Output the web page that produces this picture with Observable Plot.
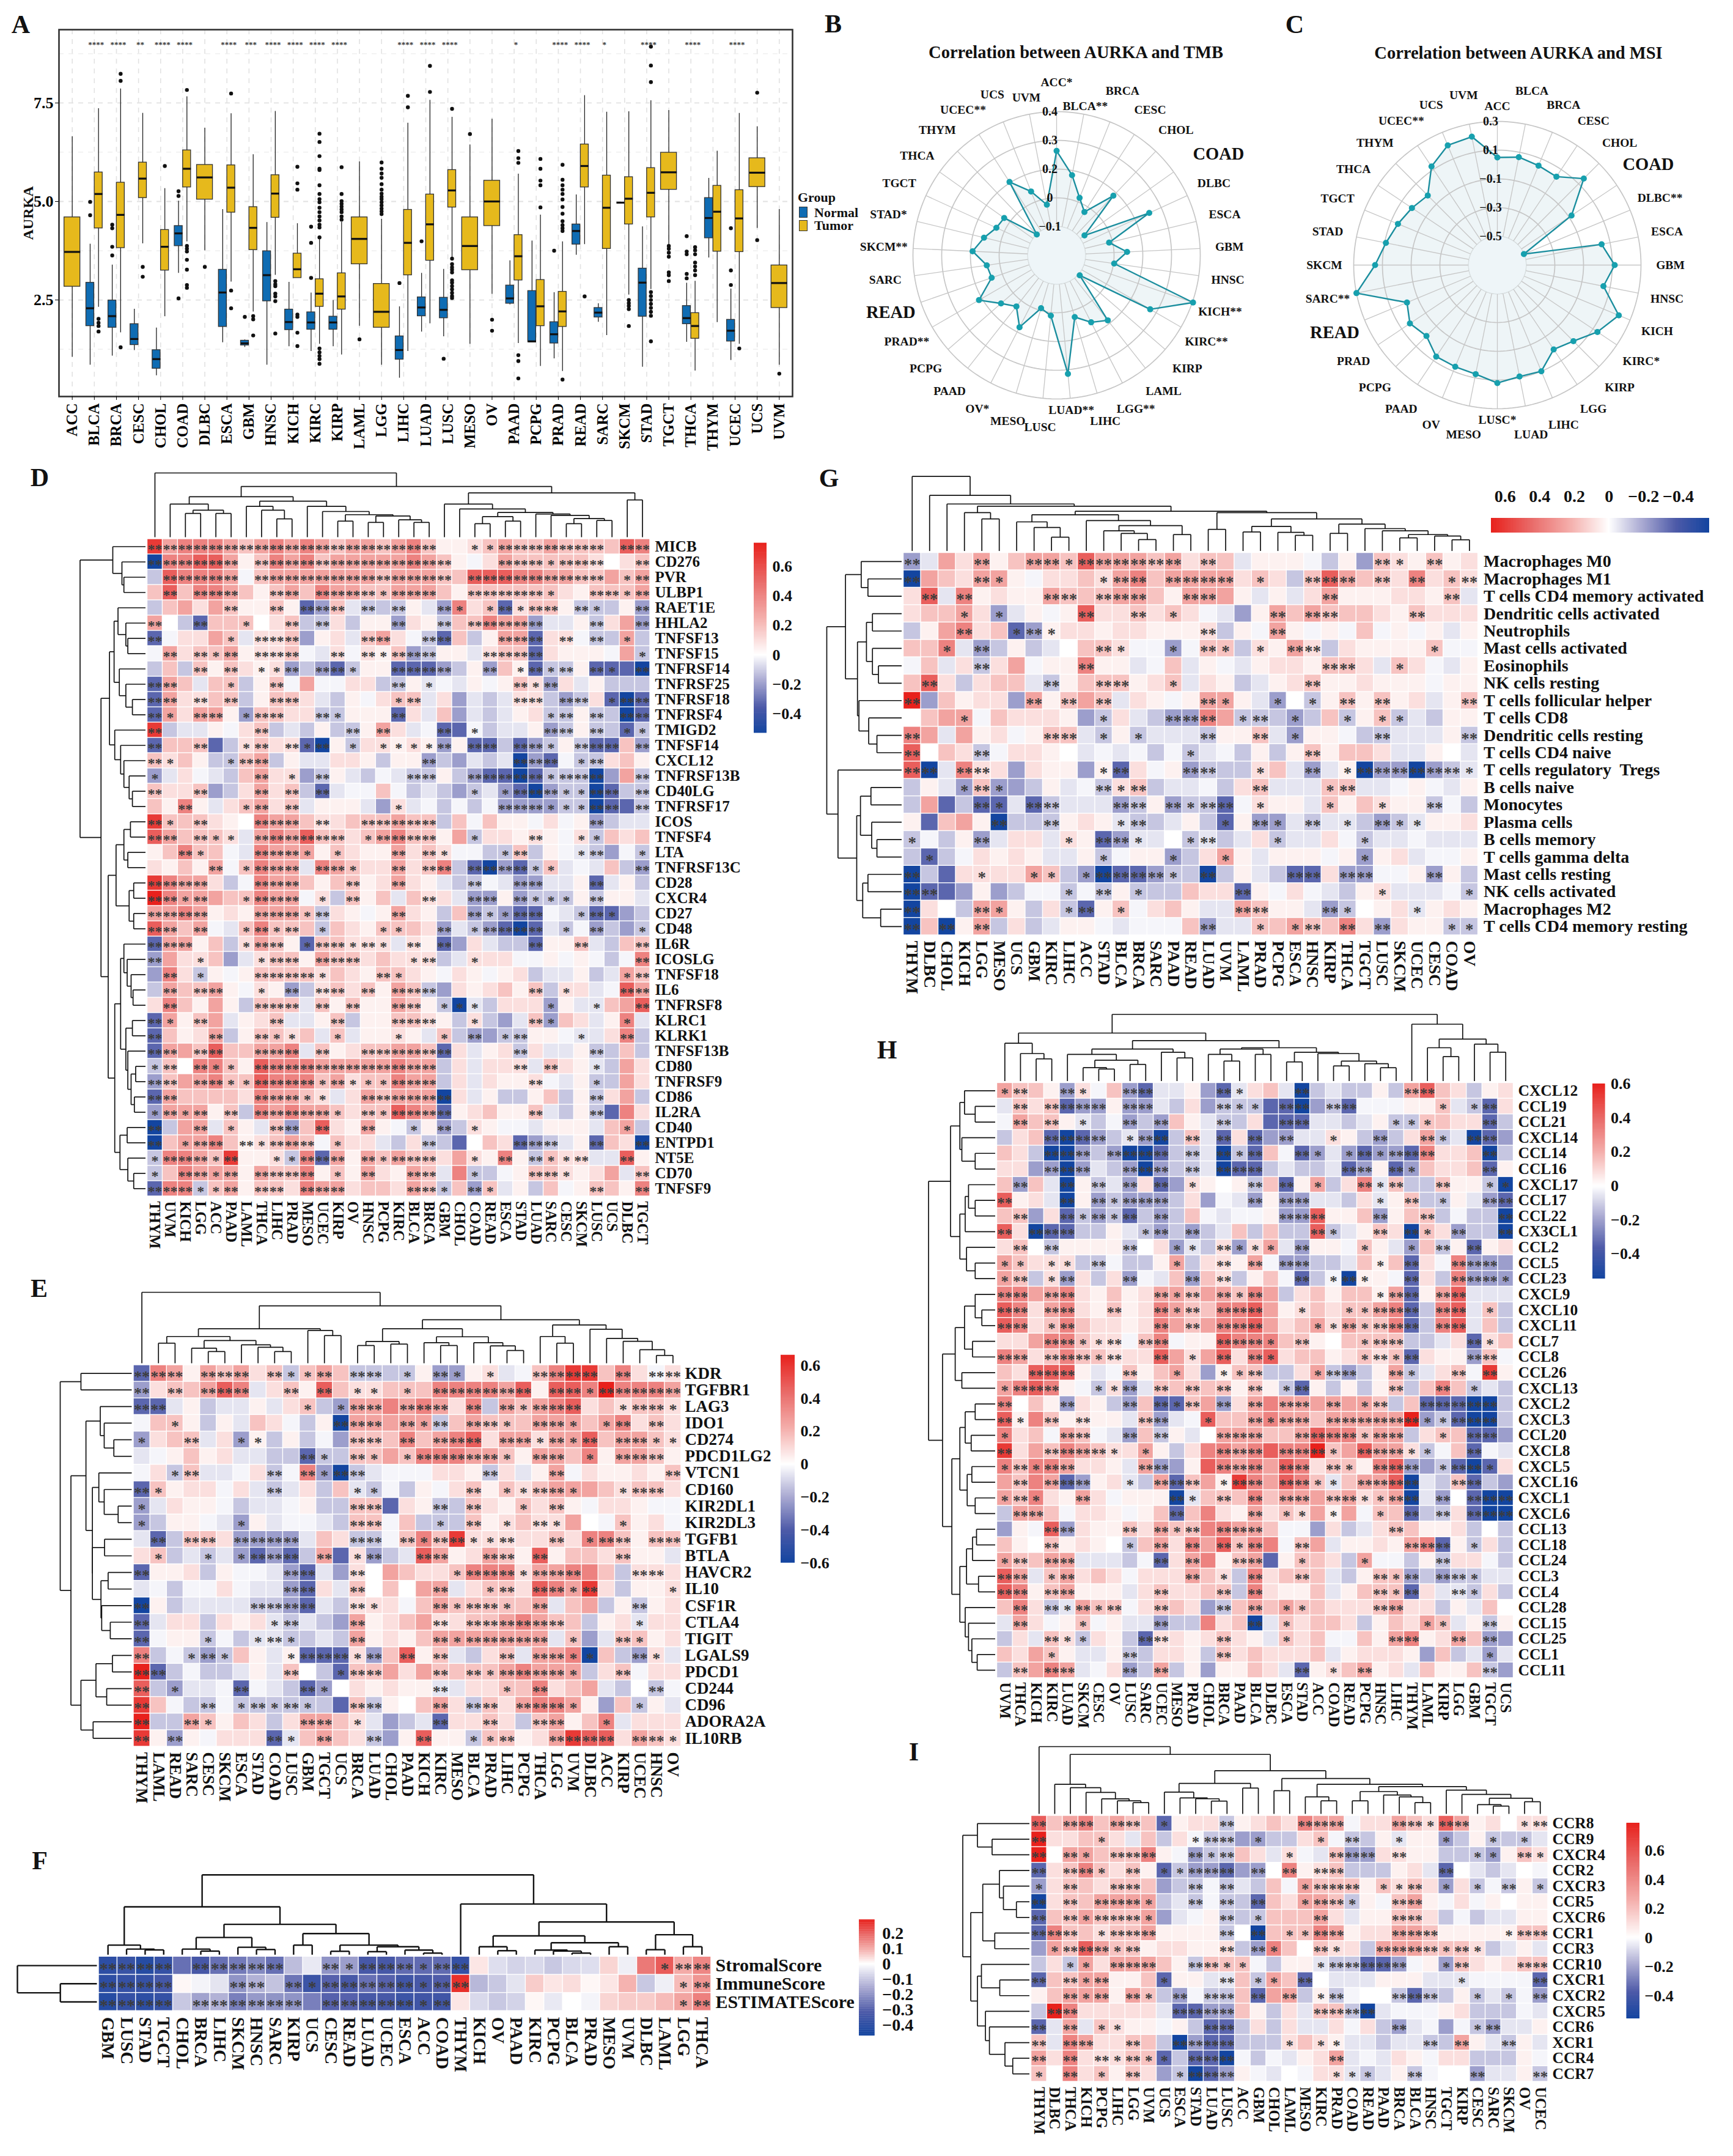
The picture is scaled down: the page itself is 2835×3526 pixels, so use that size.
<!DOCTYPE html>
<html><head><meta charset="utf-8">
<script src="https://cdn.jsdelivr.net/npm/d3@7"></script>
<script src="https://cdn.jsdelivr.net/npm/@observablehq/plot@0.6"></script>
<style>
body{margin:0;background:#fff}
#page{position:relative;width:2835px;height:3526px;overflow:hidden;background:#fff;font-family:"Liberation Serif",serif}
#page svg{position:absolute;max-width:none;background:transparent;overflow:visible}
.letter{position:absolute;font-size:42px;font-weight:bold;line-height:1;transform:translate(-50%,-50%);color:#111}
.leg{position:absolute;font-size:22px;font-weight:bold;line-height:1;color:#111}
.key{position:absolute;width:14px;height:18px;border:1.5px solid #333;box-sizing:border-box}
.title{position:absolute;font-size:28.5px;font-weight:bold;transform:translate(-50%,-50%);white-space:nowrap;color:#111}
</style></head><body><div id="page"></div>
<script>
// ---------- Panel A: AURKA expression boxes, [low whisker, Q1, median, Q3, high whisker] ----------
const cancers=["ACC","BLCA","BRCA","CESC","CHOL","COAD","DLBC","ESCA","GBM","HNSC","KICH","KIRC","KIRP","LAML","LGG","LIHC","LUAD","LUSC","MESO","OV","PAAD","PCPG","PRAD","READ","SARC","SKCM","STAD","TGCT","THCA","THYM","UCEC","UCS","UVM"];
const normalBox={BLCA:[.85,1.84,2.29,2.94,3.92],BRCA:[1.08,1.80,2.09,2.49,3.39],CESC:[1.22,1.36,1.51,1.89,2.27],CHOL:[.58,.76,1.0,1.23,1.79],COAD:[3.18,3.87,4.19,4.38,5.01],ESCA:[1.42,1.82,2.69,3.27,4.8],GBM:[1.30,1.35,1.40,1.47,1.49],HNSC:[.85,2.47,3.13,3.74,4.47],KICH:[1.32,1.74,1.94,2.26,2.95],KIRC:[1.2,1.75,1.93,2.19,2.68],KIRP:[1.32,1.75,1.93,2.08,2.49],LIHC:[.52,.99,1.23,1.58,2.33],LUAD:[1.69,2.09,2.31,2.57,3.18],LUSC:[1.57,2.04,2.25,2.56,3.28],PAAD:[2.38,2.41,2.54,2.87,3.5],PCPG:[1.42,1.43,1.45,2.73,4.0],PRAD:[1.01,1.4,1.63,1.94,2.69],READ:[3.64,3.91,4.25,4.42,5.17],SARC:[1.94,2.06,2.18,2.3,2.41],SKCM:[4.97,4.97,4.97,4.97,4.97],STAD:[.8,2.08,2.94,3.3,4.36],THCA:[1.43,1.89,2.04,2.35,2.93],THYM:[3.57,4.07,4.58,5.09,5.59],UCEC:[.97,1.45,1.72,2.0,2.78]};
const tumorBox={ACC:[1.05,2.84,3.72,4.6,6.65],BLCA:[2.32,4.32,5.19,5.74,7.36],BRCA:[1.67,3.82,4.66,5.48,7.86],CESC:[3.93,5.09,5.58,5.99,7.24],CHOL:[2.08,3.25,3.85,4.28,5.33],COAD:[3.98,5.36,5.83,6.3,7.66],DLBC:[3.75,5.05,5.61,5.93,6.86],ESCA:[2.96,4.72,5.35,5.92,7.23],GBM:[2.2,3.77,4.33,4.86,6.19],HNSC:[3.13,4.59,5.2,5.67,7.29],KICH:[3.06,3.06,3.28,3.68,4.44],KIRC:[1.38,2.33,2.66,3.03,4.12],KIRP:[1.11,2.26,2.59,3.18,4.48],LAML:[1.84,3.41,4.05,4.6,6.01],LGG:[.85,1.8,2.2,2.91,4.55],LIHC:[1.2,3.13,3.95,4.79,6.99],LUAD:[1.9,3.5,4.42,5.18,7.57],LUSC:[3.55,4.85,5.28,5.8,7.14],MESO:[1.38,3.26,3.87,4.6,6.44],OV:[2.65,4.38,5.0,5.53,7.09],PAAD:[1.4,3.0,3.61,4.15,5.7],PCPG:[.82,1.84,2.34,3.01,4.66],PRAD:[.69,1.82,2.21,2.71,3.98],READ:[3.91,5.36,5.9,6.45,7.69],SARC:[1.6,3.8,4.84,5.66,7.27],SKCM:[2.63,4.42,5.07,5.62,7.28],STAD:[2.77,4.6,5.22,5.85,7.56],TGCT:[3.91,5.3,5.74,6.24,7.31],THCA:[.7,1.52,1.84,2.17,2.98],THYM:[1.93,3.73,4.74,5.4,6.28],UCEC:[1.38,3.72,4.57,5.29,7.24],UCS:[4.32,5.37,5.73,6.1,6.9],UVM:[.85,2.3,2.93,3.38,4.8]};
const normalOut={BLCA:[4.99,4.65],BRCA:[4.41,4.32,3.85,3.63],COAD:[5.26,5.14,2.54],GBM:[2.07],KIRC:[4.36,3.95,3.06],LIHC:[2.93],LUAD:[3.99],LUSC:[1.01],PRAD:[3.75],THCA:[4.12,3.73,3.66,3.16,3.05],UCEC:[4.32,3.25,2.88]};
const tumorOut={BLCA:[2.02,1.92,1.84,1.7],BRCA:[8.24,8.06,1.3],CESC:[3.34,3.09],CHOL:[5.9],COAD:[7.83,3.87,3.8,3.73,3.52,3.27,2.88,2.81],DLBC:[3.34],ESCA:[7.74,2.74,2.29],GBM:[2.09,2.01,1.6],HNSC:[2.98,2.9,2.85,2.66,2.59,2.47,1.65],KICH:[5.88,5.46,5.3,2.13,2.07,1.67,1.33],KIRC:[6.72,6.51,6.15,5.83,5.8,5.41,5.19,5.06,4.98,4.84,4.73,4.62,4.52,4.41,4.34,4.09,1.27,1.17,1.08,1.0,.88],KIRP:[5.87,5.19,5.01,4.94,4.87,4.8,4.73,4.62,4.54],LAML:[1.5],LGG:[5.99,5.83,5.71,5.6,5.44,5.3,5.2,5.12,5.06,4.98,4.9,4.82,4.75,4.68],LIHC:[7.68,7.39],LUAD:[8.44,7.78],LUSC:[7.35,3.55,3.41,3.33,3.27,3.2,3.0,2.94,2.85,2.77,2.68,2.6,2.55],MESO:[6.71],OV:[2.0,1.72],PAAD:[6.28,6.1,5.98,1.1,.95,.51],PCPG:[6.08,5.83,5.53,5.41,4.85],PRAD:[5.93,5.55,5.41,5.3,5.19,5.05,4.86,4.69,4.5,4.4,4.32,4.25,.48],READ:[2.59],SKCM:[2.5,2.42,2.35,2.27,1.84],STAD:[8.93,8.45,8.03,2.7,2.6,2.5,2.4,2.3,2.2,2.1,1.45],TGCT:[3.87,3.8,3.7,3.6,3.2,3.13,2.98],THCA:[3.84,3.76,3.66,3.45,3.35,3.25,3.13],UCEC:[1.27],UCS:[7.76,4.02],UVM:[.63]};
const signif={BLCA:"****",BRCA:"****",CESC:"**",CHOL:"****",COAD:"****",ESCA:"****",GBM:"***",HNSC:"****",KICH:"****",KIRC:"****",KIRP:"****",LIHC:"****",LUAD:"****",LUSC:"****",PAAD:"*",PRAD:"****",READ:"****",SARC:"*",STAD:"****",THCA:"****",UCEC:"****"};

// ---------- Panels B, C: radar correlations ----------
const tmbNames=["ACC*","BLCA**","BRCA","CESC","CHOL","COAD","DLBC","ESCA","GBM","HNSC","KICH**","KIRC**","KIRP","LAML","LGG**","LIHC","LUAD**","LUSC","MESO","OV*","PAAD","PCPG","PRAD**","READ","SARC","SKCM**","STAD*","TGCT","THCA","THYM","UCEC**","UCS","UVM"];
const tmbValues=[.229,.13,.044,-.001,.133,-.076,.218,.01,.082,.028,.403,.245,-.092,.135,.103,.055,.293,.039,.015,.127,.058,.095,.165,.074,.082,.141,.10,.063,.055,-.10,.154,.074,-.001];
const msiNames=["ACC","BLCA","BRCA","CESC","CHOL","COAD","DLBC**","ESCA","GBM","HNSC","KICH","KIRC*","KIRP","LGG","LIHC","LUAD","LUSC*","MESO","OV","PAAD","PCPG","PRAD","READ","SARC**","SKCM","STAD","TGCT","THCA","THYM","UCEC**","UCS","UVM"];
const msiValues=[.049,.066,.049,.04,.151,-.079,-.5,.04,.117,.053,.215,.138,.049,.006,.10,.091,.121,.074,.066,.066,-.002,.032,-.019,.30,.151,.091,.049,.015,-.015,.125,.202,.211];

// ---------- Heatmaps: letter = colour level, digit string = star count ----------
const level={a:.04,b:.09,c:.17,d:.27,e:.38,f:.5,g:.62,h:.7,A:-.02,B:-.05,C:-.11,D:-.19,E:-.31,F:-.5,"0":0};

const dCols=["THYM","UVM","KICH","LGG","ACC","PAAD","LAML","THCA","LIHC","PRAD","MESO","UCEC","KIRP","OV","HNSC","PCPG","KIRC","BLCA","BRCA","GBM","CHOL","COAD","READ","ESCA","STAD","LUAD","SARC","CESC","SKCM","LUSC","UCS","DLBC","TGCT"];
const dRows=["MICB","CD276","PVR","ULBP1","RAET1E","HHLA2","TNFSF13","TNFSF15","TNFRSF14","TNFRSF25","TNFRSF18","TNFRSF4","TMIGD2","TNFSF14","CXCL12","TNFRSF13B","CD40LG","TNFRSF17","ICOS","TNFSF4","LTA","TNFRSF13C","CD28","CXCR4","CD27","CD48","IL6R","ICOSLG","TNFSF18","IL6","TNFRSF8","KLRC1","KLRK1","TNFSF13B","CD80","TNFRSF9","CD86","IL2RA","CD40","ENTPD1","NT5E","CD70","TNFSF9"];
const dVals=["gdeee dcded edcdd cdeca abcdc cdccc cfe","Feeff daced ecddd ddedc aAbdc ccccb 0bc","Cfeee dAcdd ddddd cdddc cfffe eddcc dcd","cfcee dcacd ceddc cdddc acccc ccbac ccd","Ccdbd caaca EDcBC CCaBD ebcEb ccaCC CaD","d0CEc cc0bc CCbCa aDbaC ccedd DBBaC bdD","EAbbd cBbbc DabBc dbACE cCadd EbbAC CdC","Adbcc dabbc ABbAb acDCa aBbcc Ebaaa AdC","CcCca cbabD CDECa aEEED CaDca ECCaE EEF","EdcBc cCacA dAAbb CCaBA BaAac bDbBa CCC","Edbbc cCacc bBCaA bccBb DBCBb bCDCb EFE","Edbdd aDccb bCCaa aEbBc DBCBa bCCaC CFE","gCBBa AbcCB CaCCa dbBAE EACBB aDCaC CEC","EcccE Cbcbb EFaCb babaD aEECE DCaCE EcD","cbcaC CcdCa BBbba CaaDC DBCBF DEACC bca","DBbAB Ccdbb DCaBC ABCCa CDEEF ECCCF DdC","cbbcD Cbdbc CEBAA cACBC DCBDE FDCCF ECC","caeaB bcdbc BaaaB DbBAC ACADD DDCCF EEC","gcccb a0edd cbbcc cdccC cAcaa AbAaD CBB","fdccc bBded fccbc decca dCbba baAbC cbc","acecc ABedd dacba adbcb AACCc CaABC DAC","bacad Acedd Bedcb bdbce CEFDE CcBAB cCD","geddb CAedd cacca bdbaB CCABD DBBaE BaC","heddd ccedd AbCca cBcbb BDDaD CCCaC aaB","ddeda baddd cCbaA adbaC cDCDE EABCE EDC","fdcdA Bcecc cCcba cccbD BCDEF EBCAD CDC","Eddac Cbdca Eccbb bBbaE DbBCC EaacB Ccc","Ddbbc DBbcc adccb cbbbC BbbbA AaAaA CAe","DebCa Aaccc cbcba ccbaA baAab CBBaC Bdc","Cdccd aAbaD Cbcbc adcCD babca cCbbB Afd","becad aCccc Bcaca adcaC FBCbb bDaBB cdf","Edacd BabcB BacCa accba CbCDB cDcbB aeB","Ecabd Caccb cBcBa abaBc CDDCC aaABB beC","Eddcf ccdde Bcabc cddcE bBabC bBBaC CcC","Cc0ee cafee edddd deddC bBbbb BcbaB Cdb","Dcdde ccfee ecdbc ceddC bBbaa bABaC Cdb","Edccc cbedd cbBbd cdddF bBaCC acCaC bdC","Dddda cCede ddcbc cfedE abcaa cBCaC Eeb","FCddB caBcD cfbad aACaD CbaAA BaaaB cdC","Fcdde cabcd cAcbb BCbCC E0cbE DCBaE cbF","Ceedc gaabC eEdad cdccb dbaea CcbbB Bfa","Ccedd dadcc eacad badcB eCCAa ccbab dBc","EeeCc daccb eddbc cbdcC cDcBa CcAac cae"];
const dStars=["22222 22222 22222 22220 01122 22222 022","22222 20222 22222 22222 00022 21222 002","02222 20222 22222 22222 02222 22222 012","02022 20022 02222 12220 02222 21002 212","00000 20020 22202 02002 10121 22021 002","20020 01002 02000 02002 02222 20002 002","20000 10222 00002 20022 00022 20202 010","02021 20222 00202 12220 00222 20000 001","00020 20112 02210 02222 00201 21202 102","22000 10020 00000 02010 00002 12000 000","22020 20022 00000 01200 00002 20220 122","21022 01220 02100 02000 00000 01202 022","20000 00200 00020 20002 01000 02202 011","20020 01202 12010 11112 02202 21022 202","21000 12200 00000 00020 00002 22012 000","10000 00201 02000 00220 02222 21222 002","20020 00202 02000 00000 01012 22112 202","00200 01202 00000 01000 00022 21112 202","21020 00222 02002 22220 00000 00002 000","22021 10222 22201 22220 01000 20011 000","00210 00222 10100 02021 00012 00012 001","00002 01222 02210 02022 02222 11000 002","22220 00222 00020 02000 02002 20002 000","22120 01222 01020 00020 02202 11102 000","22220 00222 12000 02000 02112 20012 100","22020 01212 01000 11002 01222 20102 001","22200 01220 12212 10202 00000 20020 002","20010 00122 02220 00120 01000 00000 002","02010 00222 21000 21000 00000 00000 012","02022 00102 02202 02220 00000 20100 022","02000 00222 02020 02201 11000 01001 002","21020 00020 00200 02220 01000 21000 010","20002 00211 00100 01001 02012 00010 020","22022 00222 02002 22222 00002 00002 000","12021 10222 22222 22220 00002 02001 000","22022 11222 21211 12220 00000 20001 000","22000 00222 11002 22222 00000 00002 000","12120 20222 22102 12222 00000 20002 000","20020 10022 02002 00102 01000 00000 010","20122 02122 20100 00020 00002 22002 002","12221 20011 22202 12220 01020 21120 020","10221 20222 20102 00220 01000 22100 002","22211 20220 22200 00221 02100 00002 002"];
const dColTree=[1,0,[.79,[.63,[.515,0,[.42,[.37,0,0],[.37,0,0]]],[.56,[.48,0,[.42,0,[.285,0,0]]],[.48,0,[.40,0,[.35,[.25,0,0],[.33,[.23,0,0],[.27,0,[.23,0,0]]]]]]]],[.69,[.515,0,[.44,0,[.385,[.32,[.21,0,0],[.25,0,0]],[.36,0,[.34,0,[.29,[.21,0,0],[.26,0,0]]]]]]],[.58,0,0]]]];
const dRowTree=[1,[.5,0,[.36,0,[.33,0,0]]],[.68,[.55,[.48,[.42,0,[.3,0,[.27,0,0]]],[.40,0,[.30,0,[.20,0,0]]]],[.47,0,[.38,0,[.33,0,[.25,0,[.2,0,0]]]]]],[.57,[.45,[.33,[.23,0,0],[.27,0,0]],[.25,[.18,0,0],[.18,0,0]]],[.47,[.38,[.33,0,[.28,0,[.22,0,[.19,0,0]]]],[.3,[.2,0,0],[.27,0,[.22,[.15,0,0],[.17,0,0]]]]],[.39,[.28,0,0],[.27,0,[.18,0,0]]]]]]];

const eCols=["THYM","LAML","READ","SARC","CESC","SKCM","ESCA","STAD","COAD","LUSC","GBM","TGCT","UCS","BRCA","LUAD","CHOL","PAAD","KICH","KIRC","MESO","BLCA","PRAD","LIHC","PCPG","THCA","LGG","UVM","DLBC","ACC","KIRP","UCEC","HNSC","OV"];
const eRows=["KDR","TGFBR1","LAG3","IDO1","CD274","PDCD1LG2","VTCN1","CD160","KIR2DL1","KIR2DL3","TGFB1","BTLA","HAVCR2","IL10","CSF1R","CTLA4","TIGIT","LGALS9","PDCD1","CD244","CD96","ADORA2A","IL10RB"];
const eVals=["Eedad cdbcC cdcCC CCaDD abBAc eggce bAb","Dbccd feBbc afcbb cccee eedfa ffehe eed","EEBaC BBaBb cCDdd ededb eCdcd efbcb ccb","AccaC aBcbA CaFdd dddCc dcccd ddcde bcb","DbccB bDaCa CADcc cecde fbddb ddfcd dcb","BAaca bBBCC ECCcc dceee ddcad dcead dca","AbCcB BAbCA eDFCB AAAbb aCbBa dAbaa bac","Ecabb AbBCB bCcBC ACaAb cacbc dddcb ccb","DBbaa ACBBA aCCcc EbaCC cbacb caAbb aAA","DCaaA BDaBA ABCcc AcCCC cabcb bd0Ac abA","BECcc bDDDD BcbCC Acecg bbbbb cbeec acc","bcCBC BDEDE CdEbD CBfda bdcaf accbc aaB","EaabC aAABD EBDb0 dcbbc eeebd deecC bbb","BACAA bABBD EbBc0 c0ddB bccbf edgbC aab","FaCBB BBCCD EBCbb bAcdc ccccd BcdCa Cab","EBbbC babBC BCDda bcdbb ccded ccCab Bbb","EAaaC ACBBC CBCda bacdd ddddd BcDBc cab","eCACD CcaBa EEEbD cfacB CbcBd deFcC DbB","hECAC CBaBc 0CEcc dbdcc ccded ddCbc Abb","fCDBB AEABC ED0ba baaBB bbcce bcdBC 0CA","gcACC ACCCC CCEcC a0cdb Ccbde edaDc CaB","hCCdc acbCb ddcbB DCBEb bcbCc daceB bbb","gaDaA bbbEB cdcbC Dafaa Cccab dgffb dcb"];
const eStars=["22202 22021 12022 01021 01002 22202 022","20202 22002 02011 01022 22220 22122 222","22000 00000 10122 02220 20212 22001 221","00100 00000 00222 02120 22102 21012 020","10020 01100 00022 02022 20221 21202 211","00000 00000 21021 01222 22102 20102 220","00120 00020 21220 00000 02000 20000 002","21000 00020 00011 00000 20112 21001 220","10000 00000 00022 00020 20010 20000 000","10000 01000 00022 00010 20102 10001 000","02022 02222 00022 02122 11200 20122 022","01001 01222 02012 00220 02202 00002 000","20000 00002 20020 00001 22212 22000 220","00000 00002 20020 00020 01202 21200 001","20000 00222 20021 00021 22102 00000 200","20000 00012 00020 00020 22222 20000 100","20001 00121 00020 00021 22222 01002 100","20012 10001 22212 02020 00202 21100 210","22000 00002 00122 00020 21222 21002 000","20100 02000 21000 00020 00102 00000 020","20002 01212 10022 00020 22022 21000 100","20021 00000 22010 00020 02002 20010 000","20200 00021 02002 00200 11200 22220 221"];
const eColTree=[1,0,[.81,[.486,[.377,[.283,0,0],[.32,[.212,0,[.165,0,0]],[.26,0,[.226,0,[.165,0,0]]]]],[.462,0,[.39,0,0]]],[.613,[.486,[.307,[.25,0,0],[.27,0,0]],[.373,[.29,0,[.25,0,0]],[.29,0,[.245,0,[.18,0,0]]]]],[.54,[.377,0,[.283,0,0]],[.48,0,[.35,0,[.31,0,[.19,0,[.11,0,0]]]]]]]]];
const eRowTree=[1,[.71,0,0],[.85,[.64,[.44,0,[.385,0,[.25,0,0]]],[.55,[.46,0,[.385,0,[.19,0,0]]],[.55,[.38,0,0],[.43,[.33,0,0],[.42,0,[.3,0,0]]]]]],[.71,[.5,[.27,0,0],[.35,0,0]],[.54,0,0]]]];

const fCols=["GBM","LUSC","STAD","TGCT","CHOL","BRCA","LIHC","SKCM","HNSC","SARC","KIRP","UCS","CESC","READ","LUAD","UCEC","ESCA","ACC","COAD","THYM","KICH","OV","PAAD","KIRC","PCPG","BLCA","PRAD","MESO","UVM","DLBC","LAML","LGG","THCA"];
const fRows=["StromalScore","ImmuneScore","ESTIMATEScore"];
const stromalScore=[-.4,-.37,-.42,-.38,-.27,-.33,-.27,-.25,-.22,-.27,-.12,-.04,-.2,-.18,-.33,-.33,-.28,-.28,-.28,-.38,.03,-.06,-.08,-.07,-.1,-.07,-.06,.05,-.03,.17,.21,.1,.15];
const immuneScore=[-.4,-.38,-.38,-.34,.01,-.02,-.05,-.2,-.14,-.11,-.26,-.36,-.3,-.33,-.27,-.3,-.35,-.33,-.31,.27,-.13,-.1,-.05,.06,.03,.04,.01,.03,.09,-.1,-.03,.08,.13];
const estimateScore=[-.42,-.38,-.4,-.38,-.1,-.17,-.14,-.24,-.19,-.2,-.2,-.24,-.3,-.3,-.33,-.33,-.36,-.35,-.35,.03,-.07,-.1,-.08,.01,-.04,0,-.02,.05,.06,.06,.08,.11,.16];
const fStars=["22220 22222 00212 22122 00000 00000 122","22220 00220 21222 22122 00000 00000 012","22220 22222 20222 22120 00000 00000 012"];
const fColTree=[1,[.6,[.12,0,[.07,0,[.06,0,0]]],[.38,[.216,[.07,0,[.045,0,0]],[.093,0,[.065,0,0]]],[.264,[.12,0,0],[.12,[.043,0,0],[.10,[.038,0,0],[.058,0,[.02,0,0]]]]]]],[.635,0,[.41,[.236,[.10,0,[.05,0,0]],[.15,[.058,0,[.045,0,[.02,0,0]]],[.10,0,0]]],[.25,[.063,0,0],[.10,0,0]]]]];
const fRowTree=[1,0,[.46,0,0]];

const gCols=["THYM","DLBC","CHOL","KICH","LGG","MESO","UCS","GBM","KIRC","LIHC","ACC","STAD","BLCA","BRCA","SARC","PAAD","READ","LUAD","UVM","LAML","PRAD","PCPG","ESCA","HNSC","KIRP","THCA","TGCT","LUSC","SKCM","UCEC","CESC","COAD","OV"];
const gRows=["Macrophages M0","Macrophages M1","T cells CD4 memory activated","Dendritic cells activated","Neutrophils","Mast cells activated","Eosinophils","NK cells resting","T cells follicular helper","T cells CD8","Dendritic cells resting","T cells CD4 naive","T cells regulatory  Tregs","B cells naive","Monocytes","Plasma cells","B cells memory","T cells gamma delta","Mast cells resting","NK cells activated","Macrophages M2","T cells CD4 memory resting"];
const gVals=["DBdbd acddc fdddc dbccB aaaAC aDcba cab","Fdcbd daAbb cbdec ddddb cbCcf dccbe bcb","bfBea baadc ccddc addda BaBbd aaabb acB","bccdb DBaAa fbbcb cbABD adcdc ccbac bbb","Cadeb cEDab babba aabCa AdaAa AcAaA aBa","cceBD CaCB0 ccbAA DAccC badbC baaaa cAA","AcBbC bdAaa eaaBA cBaAB abbac cbBcb ABa","cfbCb ccBCa cccab cBbaC Babca abaaa Aaa","hDcab bDdac dcBba Aadda BD0Ca cacab Bac","0cddA cbbba DCbBC DDedC CCDCc CacCB Caa","edBda bAacc BCaCB BBCaa cBDaa ACCBB BaC","f0cbC Abba0 BABAC ACBAC aCaca ccbBB a0B","fFBeb bDbaa DaEbA aDCCC bcBDB aFDDF DCB","CaBDc DDCaB ACbcC BBACb cBBBc cBBAa ABa","CdECE EBECB BBDCa DCCEA baaBc acbaa CAC","aEcda FCCCa baBCC BaCEa DDBCB BCDCB aab","CACaD BbbBb aEDBB 0CBCB bCBBb ACBBA BBB","CECAb abaBB aCAaa DCbda BaaaA aDabB AAa","FCEbb bbdcC DFEED CCFCa BCEEb DDAAa DaC","FEEDa DCAAC ACaCC CcbbE aAbAB CabBB BAC","Fb0Cd daCbC EacAb caBBd caaBD C0abB aba","FcFad CbCBa aABAA AcDBB ccdcc ebDba aCC"];
const gStars=["20002 00221 22222 20200 00000 00210 200","20002 10000 01220 22220 10022 20202 012","02020 00022 02220 02200 00002 00000 020","00010 10000 20020 10000 02022 00002 000","00020 01210 00000 00200 02000 00000 000","00102 00000 02100 10210 10220 00000 100","00002 00000 20000 00000 00002 20010 000","02000 00020 02200 10000 00020 00000 000","20000 00202 02000 00210 01010 20200 002","00010 00000 01000 22201 20100 10110 000","20000 00022 01010 00200 20100 00200 002","20002 00000 00000 01000 00020 00000 000","22022 00000 01200 02200 10020 12222 221","00012 10000 02120 00000 20001 20000 000","00002 10220 00220 21220 10001 00100 200","00000 20020 00120 00010 21020 10211 000","10002 00001 02210 01200 01000 01000 000","01000 00000 01000 10010 00000 01000 000","20001 00110 12222 10200 00220 22000 200","22000 00001 02010 00002 00000 00100 001","20002 10001 20100 00002 20002 10001 000","20202 00000 00000 00200 10120 20200 011"];
const gColTree=[1,0,[.745,0,[.63,0,[.6,[.514,0,[.43,0,0]],[.532,[.486,[.39,0,[.315,0,[.185,0,0]]],[.407,0,[.34,[.27,0,[.236,0,[.153,0,0]]],[.22,0,0]]]],[.514,[.29,0,0],[.43,[.33,[.255,0,0],[.25,0,[.21,0,0]]],[.36,[.236,0,0],[.30,0,[.27,0,[.22,[.176,0,0],[.2,0,[.15,0,0]]]]]]]]]]]]];
const gRowTree=[1,[.75,[.54,0,[.45,0,0]],[.59,[.47,[.39,0,0],[.39,0,[.31,0,0]]],[.57,0,[.44,0,[.33,0,0]]]]],[.85,0,[.6,[.55,[.41,0,0],[.40,0,[.33,0,0]]],[.52,[.45,0,0],[.28,0,0]]]]];

const hCols=["UVM","THCA","KICH","KIRC","LUAD","SKCM","CESC","OV","LUSC","SARC","UCEC","MESO","PRAD","CHOL","BRCA","PAAD","BLCA","DLBC","ESCA","STAD","ACC","COAD","READ","PCPG","HNSC","LIHC","THYM","LAML","KIRP","LGG","GBM","TGCT","UCS"];
const hRows=["CXCL12","CCL19","CCL21","CXCL14","CCL14","CCL16","CXCL17","CCL17","CCL22","CX3CL1","CCL2","CCL5","CCL23","CXCL9","CXCL10","CXCL11","CCL7","CCL8","CCL26","CXCL13","CXCL2","CXCL3","CCL20","CXCL8","CXCL5","CXCL16","CXCL1","CXCL6","CCL13","CCL18","CCL24","CCL3","CCL4","CCL28","CCL15","CCL25","CCL1","CCL11"];
const hVals=["dccaD bAcDE BBaDE BbcBF CBCCa Cdfcb Cab","BcbcE DDaDD BCbDC CCEEF DCEAA AaacB CEb","Adcca BCADC DcaBC CbEEE BBCBa CCccb bEC","CbcEF EDCBD FCcBE bEDDB BbaCD CbdCB FED","cbCFF DCDFF ECCBF CEcAE DBDED DEebb cFC","bbDDF DBCDF DCCBF EECBC CBEDa EDcbb cEa","cDcBF aCBDb EDba0 aCcEa dCbeB cCCca aCF","fabBF aDCDD DCbDA BDaDD BBCbB acCCa BDE","ccDbE CDCEC DCcAB AAaDD faacD accCA CCF","fbFEE CCaBC DCDCB cCcCC fCBac bFcbD CCF","bc0Ca aaaC0 bDBCb DbdBD aaAca BDcCa Eab","dcbbb CCACC adCbb adADD CCBca cEbAe DDD","dcCbD bCbDA BcDcb CacAE CAFaa AEbCe DDD","eedde bacab ddcdd cedCb cacca dEadf BBB","febde bacab edcce efdab cbccd eECef BcC","febce cbbab edcde efdbc dbdcc eECef BcC","bbdee cbbAc eAaaf eeecc a0ccc cCCBb Ebc","edbce ccbbb fdbdf befbc cabcb cEbaa DcA","cbfff aBAca cdbDa ccCCb dCDCa dCBbc Aga","defea ACbDB ccccc acaCE aCaCa cCcec CBC","e0caD baCDc EEcdD bdedd ddddc CcEEE FFC","faeca baaBc DBAfc cdedd cdddd dhDCE FFC","ebcAd cABDc CaB0d ddccd feecd dCbcc EED","gbdce dcbbd aCbee defee hcdfd dbCAc EAB","eceed bbaBd DDafe dedfe bccae fDDCE FEb","dcedE DabBC dEcda gedfe cBcdd fFBCc ECD","dceba dbAaa aFBcc cecdd dcdbc dFBD0 EFF","CddcA bbaAa cEceb adbcb dadAc cECCb EFF","DaAfD baacb dccee ddcAA DbCBb ccaab C0C","ca0ca ba0Cc dbedf ceeAc dBaab adeEa CbC","dccdd BBBCA Ebdea cdEac cbCdA ACaCb bAC","fdBcd bcbAb bbdcb Cebcc cBCac cDCDC CBB","feacd aaaBb cbbcc Cebaa cBacc cEbBB CbC","cebCB dccAb ccbDC cdcdc cbbbc dbbCa Bc0","BdbAa cAaBB DCCeb cFBcb ccbCa cbdcB aCa","CbBcb CbaCE bbabc baBcb cAAca deabd cDD","cbdca BBaCC bbaCc bcbbb cBabb baDcC BDB","Ccded BAbDC dCaDa acbBE abcda bBcaa cCD"];
const hStars=["12002 10022 00002 10002 00000 02200 000","02022 22022 00002 11022 02200 00010 120","02020 10020 20002 00022 00000 11100 020","00022 22012 20202 02020 01002 00210 220","00022 20222 20202 12002 10121 22200 020","00022 20022 20202 22000 00220 21000 020","02002 02020 20100 02020 10021 20020 011","20002 02122 20000 02022 00001 02010 022","02002 12120 20000 00022 20002 00200 002","20222 00001 20200 00000 21002 02102 002","02020 00020 01102 11102 00010 01020 200","11011 02000 01002 02022 00001 02002 220","12012 00020 00202 00002 01210 02002 221","22022 00000 21202 12000 00001 22022 000","22022 00200 21202 22001 00112 22022 010","22012 00000 20202 22000 11212 22022 000","00022 11202 20002 22102 00012 20000 210","22022 21200 20102 02100 00012 12000 220","00222 00020 01001 12000 12200 21002 020","12220 01120 20202 02012 00000 20020 100","20002 00020 21202 02022 02012 00222 220","21020 20002 20010 02122 02222 22112 220","10002 20020 20002 22002 22212 20010 220","20022 22101 00002 22022 21022 21100 200","12122 00002 20002 22022 02102 22012 210","02022 20010 22201 22022 11022 22002 200","12100 20000 02102 02022 02211 22020 222","02200 00000 02000 02011 01001 02020 222","00022 00020 21202 22000 00000 20000 000","00020 00010 20202 12002 00000 02220 100","12022 00000 20200 22001 00010 00020 000","22012 00000 00201 02002 00002 12022 100","22022 00000 20002 02000 00002 12002 100","02021 21200 20002 02011 00002 20000 000","02000 10000 20000 02010 00000 00110 020","00021 10002 20002 00010 00000 22002 020","00010 00020 00002 00000 00000 00000 010","02022 00020 20000 00002 01020 00000 020"];
const hColTree=[1,[.72,[.567,0,[.413,0,[.333,0,0]]],[.607,[.48,[.40,0,[.313,[.2,0,[.18,0,0]],[.25,0,0]]],[.433,0,[.347,0,0]]],[.5,[.48,[.40,0,[.3,0,0]],[.40,0,0]],[.433,[.287,0,0],[.413,0,[.3,[.227,0,0],[.26,0,[.2,0,0]]]]]]]],[.853,0,[.63,[.5,0,[.367,0,0]],[.553,0,[.433,0,0]]]]];
const hRowTree=[1,[.67,[.53,[.46,0,[.3,0,0]],[.5,0,[.3,0,0]]],[.53,[.45,[.4,0,[.3,0,0]],0],[.43,0,[.3,0,0]]]],[.79,[.6,[.46,[.3,0,[.2,0,0]],[.34,0,0]],[.5,0,0]],[.65,[.53,[.45,[.3,0,0],[.36,0,0]],[.42,[.35,0,0],[.3,0,0]]],[.53,[.43,[.34,[.28,0,0],0],[.25,0,0]],[.45,0,[.4,0,[.35,0,[.27,0,0]]]]]]]];

const iCols=["THYM","DLBC","THCA","KICH","PCPG","LIHC","LGG","UVM","UCS","ESCA","STAD","LUAD","LUSC","ACC","GBM","CHOL","LAML","MESO","KIRC","PRAD","COAD","READ","PAAD","BRCA","BLCA","HNSC","TGCT","KIRP","CESC","SARC","SKCM","OV","UCEC"];
const iRows=["CCR8","CCR9","CXCR4","CCR2","CXCR3","CCR5","CXCR6","CCR1","CCR3","CCR10","CXCR1","CXCR2","CXCR5","CCR6","XCR1","CCR4","CCR7"];
const iVals=["fcdec dccEa bbCab cbedd Abbdc bfdab 0bb","hbbcc bBcCb ACCDD CCbcA CCaBa aDCaC CCB","h0ddc cceaA DCCcb BbABc DDbba aCCCD acb","Ebcec bcaEC DDEDD 0eabc CCCab BE0BC B0A","Dbccb cccDC CACBC cAdcc cacbc bDbCA CaC","Fbccd dddCB CACCE cbddc CaAcd aAbAa 0aa","Eccdc ccdDB AaCCC cccdb Baacc bCACB Baa","Eeccb ccdaa aaC0F ccced abbdd caaaa acc","Ddcfd ccabb aabCD ec0cb bCddd cccbC BaB","CbCdb dddca CcccA CaaBC CEEDA aDcba bcc","Eccdd aacEa aBBcC dcE0B BBaaa BBBAA AAE","acddd adcCD ACCcE ddCaC A00CE CCaCB CAD","Chebb bbbBE EDDca CbBcc CFBAA AabCC CAB","EBdBc baaAa CEECb CbBBb AbCDB ADACD BBa","cBedb bccCF DEECC Cbcba BBCBB CCdaB CaB","dbebb bccEC EEFAC ABabd BABba AbbCC CaA","c0ebc acbDC FEDaA B0Abb BCBaC A00DB BaC"];
const iStars=["20220 22010 00200 00222 00022 12200 012","20001 00000 12201 00010 20010 01001 010","20210 22200 21200 01002 22020 00011 021","20221 02011 22202 02022 00000 02000 000","10200 22000 20200 00122 20112 01010 201","20202 22100 20202 00122 10022 00000 000","20212 22100 00201 00020 00022 00000 000","22201 22200 00202 01122 00022 20000 122","01222 12000 00202 10021 00222 21210 000","00110 22200 22110 00012 22220 01200 022","20212 00010 00201 10200 00000 00100 002","00212 02102 02202 02012 00022 20010 102","02200 00002 22200 00022 22000 00000 000","20201 10000 02200 00000 00020 00012 000","20220 02002 22200 01011 00000 20200 200","20202 12110 22200 00002 00000 00000 000","10201 02001 22200 00001 11002 00020 002"];
const iColTree=[1,0,[.884,[.44,0,[.39,0,[.32,0,[.224,0,[.194,0,[.168,0,0]]]]]],[.642,[.453,[.323,0,[.237,0,[.225,0,[.19,0,0]]]],[.384,0,0]],[.526,[.345,0,0],[.44,[.254,0,[.194,0,0]],[.405,[.332,[.194,0,0],[.28,0,[.254,0,[.168,0,0]]]],[.353,0,[.289,0,[.233,[.138,0,[.116,0,0]],[.181,0,0]]]]]]]]]];
const iRowTree=[1,[.78,0,[.56,0,0]],[.88,[.70,[.45,0,[.39,0,[.195,0,0]]],[.52,0,0]],[.78,[.72,0,[.445,0,0]],[.66,0,[.6,0,[.367,0,[.25,0,0]]]]]]];

// ---------- Drawing ----------
const page=document.getElementById("page");
const serif="Liberation Serif";
function place(svg,x,y){svg.style.left=x+"px";svg.style.top=y+"px";page.appendChild(svg);}
function html(cls,txt,x,y,extra){const d=document.createElement("div");d.className=cls;d.textContent=txt;d.style.left=x+"px";d.style.top=y+"px";if(extra)Object.assign(d.style,extra);page.appendChild(d);}
const fmtTick=v=>v===0?"0":(v<0?"\u2212":"")+Math.abs(v).toFixed(1);
const clean=s=>s.replace(/\s+/g,"");

function treeSegs(tree){
  const st={i:0,segs:[]};
  (function walk(n){
    if(!Array.isArray(n)){return{p:st.i++ +.5,h:0};}
    const [h,a,b]=n,A=walk(a),B=walk(b);
    st.segs.push([A.p,A.h,A.p,h],[A.p,h,B.p,h],[B.p,B.h,B.p,h]);
    return{p:(A.p+B.p)/2,h};
  })(tree);
  return st.segs;
}

function heatmap(c){
  const [L,T,R,B]=c.box,[x0,y0,x1,y1]=c.region;
  const nc=c.cols.length,nr=c.rows.length,cw=(R-L)/nc,rh=(B-T)/nr;
  const ux=p=>(p-L)/cw,uy=p=>(p-T)/rh;
  const [mn,mx]=c.domain;
  const cells=[];
  c.rows.forEach((row,r)=>{
    const st=clean(c.stars[r]);
    const vals=c.numeric?c.numeric[r]:clean(c.vals[r]).split("").map(ch=>{const l=level[ch]||0;return l<0?l/.5*(-mn):l/.7*mx;});
    c.cols.forEach((col,k)=>cells.push({row,col,r,k,v:vals[k]||0,s:+st[k]||0}));
  });
  const colSegs=treeSegs(c.colTree).map(([p1,h1,p2,h2])=>({x1:p1,x2:p2,y1:-(3+h1*(c.dh-3))/rh,y2:-(3+h2*(c.dh-3))/rh}));
  const rowSegs=treeSegs(c.rowTree).map(([p1,h1,p2,h2])=>({y1:p1,y2:p2,x1:-(3+h1*(c.dw-3))/cw,x2:-(3+h2*(c.dw-3))/cw}));
  const [bx0,by0,bx1,by1]=c.bar,n=140,slices=[];
  const horiz=(bx1-bx0)>(by1-by0);
  for(let i=0;i<n;i++){
    const t0=i/n,t1=(i+1.3)/n>1?1:(i+1.3)/n,v=mx+(mn-mx)*(i+.5)/n;
    slices.push(horiz?{x1:ux(bx0+t0*(bx1-bx0)),x2:ux(bx0+t1*(bx1-bx0)),y1:uy(by0),y2:uy(by1),v}:{x1:ux(bx0),x2:ux(bx1),y1:uy(by0+t0*(by1-by0)),y2:uy(by0+t1*(by1-by0)),v});
  }
  const tickData=c.ticks.map(v=>{const t=(mx-v)/(mx-mn);return horiz?{x:ux(bx0+t*(bx1-bx0)),y:uy(by0-35),v}:{x:ux(bx1+c.barGap),y:uy(by0+t*(by1-by0)),v};});
  const svg=Plot.plot({
    width:x1-x0,height:y1-y0,margin:0,
    x:{axis:null,domain:[ux(x0),ux(x1)],range:[0,x1-x0]},
    y:{axis:null,domain:[uy(y0),uy(y1)],range:[0,y1-y0]},
    color:{type:"linear",interpolate:"rgb",clamp:true,domain:[mn,mn*.67,mn*.33,0,mx*.33,mx*.66,mx],range:["#1345a0","#4d5aa8","#aaaad2","#ffffff","#f4aeab","#e96a68","#e8211c"]},
    style:{fontFamily:serif,background:"transparent"},
    marks:[
      Plot.rect(cells,{x1:d=>d.k,x2:d=>d.k+1,y1:d=>d.r,y2:d=>d.r+1,fill:"v",inset:.7}),
      Plot.text(cells.filter(d=>d.s>0),{x:d=>d.k+.5,y:d=>d.r+.5,text:d=>"*".repeat(d.s),fontSize:c.star,fill:"#3c3c3c",dy:c.star*.2,fontWeight:"bold"}),
      Plot.link(colSegs,{x1:"x1",x2:"x2",y1:"y1",y2:"y2",stroke:"#111",strokeWidth:c.tw||1.7}),
      Plot.link(rowSegs,{x1:"x1",x2:"x2",y1:"y1",y2:"y2",stroke:"#111",strokeWidth:c.tw||1.7}),
      Plot.text(c.rows,{x:nc+c.rowGap/cw,y:(d,i)=>i+.5,text:d=>d,textAnchor:"start",fontSize:c.rowFont,fontWeight:"bold",fill:"#111"}),
      Plot.text(c.cols,{x:(d,i)=>i+.5,y:nr+c.colGap/rh,text:d=>d,rotate:90,textAnchor:"start",fontSize:c.colFont,fontWeight:"bold",fill:"#111"}),
      Plot.rect(slices,{x1:"x1",x2:"x2",y1:"y1",y2:"y2",fill:"v"}),
      Plot.text(tickData,{x:"x",y:"y",text:d=>fmtTick(d.v),textAnchor:horiz?"middle":"start",fontSize:c.tickFont||26,fontWeight:"bold",fill:"#111"})
    ]
  });
  place(svg,x0,y0);
}

heatmap({box:[240.5,881,1063,1956],region:[110,760,1320,2040],rows:dRows,cols:dCols,vals:dVals,stars:dStars,colTree:dColTree,rowTree:dRowTree,dh:108,dw:110,domain:[-.53,.76],ticks:[.6,.4,.2,0,-.2,-.4],bar:[1233,887.6,1254,1198.5],barGap:9,star:24,rowFont:25,colFont:25,rowGap:8,colGap:8});
heatmap({box:[218,2232,1114,2856],region:[90,2105,1400,2960],rows:eRows,cols:eCols,vals:eVals,stars:eStars,colTree:eColTree,rowTree:eRowTree,dh:119,dw:120,domain:[-.6,.664],ticks:[.6,.4,.2,0,-.2,-.4,-.6],bar:[1277,2215.7,1300,2555.7],barGap:9,star:26,rowFont:27,colFont:27,rowGap:6,colGap:9});
heatmap({box:[161,3199.3,1163,3288.3],region:[20,3060,1500,3420],rows:fRows,cols:fCols,numeric:[stromalScore,immuneScore,estimateScore],stars:fStars,colTree:fColTree,rowTree:fRowTree,dh:133.6,dw:133,domain:[-.47,.29],ticks:[.2,.1,0,-.1,-.2,-.3,-.4],bar:[1405,3139,1430.7,3329],barGap:12,star:28,rowFont:30,colFont:29,rowGap:7,colGap:10,tickFont:28,tw:2.4});
heatmap({box:[1477.5,903.6,2417.6,1529],region:[1340,770,2835,1640],rows:gRows,cols:gCols,vals:gVals,stars:gStars,colTree:gColTree,rowTree:gRowTree,dh:125,dw:125.5,domain:[-.58,.68],ticks:[.6,.4,.2,0,-.2,-.4],bar:[2439,847,2796,871],barGap:0,star:27,rowFont:28,colFont:28,rowGap:9,colGap:9,tickFont:28});
heatmap({box:[1630.5,1770.5,2475.5,2743.8],region:[1510,1650,2720,2840],rows:hRows,cols:hCols,vals:hVals,stars:hStars,colTree:hColTree,rowTree:hRowTree,dh:112,dw:112,domain:[-.545,.6],ticks:[.6,.4,.2,0,-.2,-.4],bar:[2605,1772,2625.6,2091],barGap:9,star:25,rowFont:25.5,colFont:25,rowGap:7.5,colGap:7});
heatmap({box:[1686.5,2969,2532,3404],region:[1565,2850,2780,3526],rows:iRows,cols:iCols,vals:iVals,stars:iStars,colTree:iColTree,rowTree:iRowTree,dh:113,dw:112,domain:[-.554,.789],ticks:[.6,.4,.2,0,-.2,-.4],bar:[2660.5,2981,2682,3301],barGap:8,star:25,rowFont:25.5,colFont:25,rowGap:7,colGap:8.5});

// Panel A
(function(){
  const blue="#0f6cb3",gold="#e6b91c";
  const boxes=[],dots=[];
  cancers.forEach((c,i)=>{
    const n=normalBox[c],t=tumorBox[c],both=n&&t;
    if(n)boxes.push({c,g:"Normal",x:i-.19,w:.36,s:n});
    if(t)boxes.push({c,g:"Tumor",x:both?i+.19:i,w:both?.36:.72,s:t});
    (normalOut[c]||[]).forEach(v=>dots.push({x:i-.19,v}));
    (tumorOut[c]||[]).forEach(v=>dots.push({x:both?i+.19:i,v}));
  });
  const sig=cancers.map((c,i)=>({i,t:signif[c]})).filter(d=>d.t);
  const idx=cancers.map((c,i)=>i);
  const svg=Plot.plot({
    width:1400,height:726,marginLeft:96,marginRight:104,marginTop:48,marginBottom:78,
    x:{type:"linear",domain:[-.6,32.6],axis:null},
    y:{domain:[.05,9.36],axis:null},
    color:{domain:["Normal","Tumor"],range:[blue,gold]},
    style:{fontFamily:serif,background:"transparent",fontWeight:"bold"},
    marks:[
      Plot.ruleX(idx,{x:d=>d,stroke:"#e2e2e2",strokeWidth:1.6,strokeDasharray:"8,8"}),
      Plot.ruleY([1.25,3.75,6.25,8.75],{stroke:"#ececec",strokeWidth:1.2,strokeDasharray:"8,8"}),
      Plot.ruleY([2.5,5,7.5],{stroke:"#e2e2e2",strokeWidth:1.8,strokeDasharray:"8,8"}),
      Plot.ruleX(boxes,{x:"x",y1:d=>d.s[0],y2:d=>d.s[4],stroke:"#222",strokeWidth:1.3}),
      Plot.rect(boxes,{x1:d=>d.x-d.w/2,x2:d=>d.x+d.w/2,y1:d=>d.s[1],y2:d=>d.s[3],fill:"g",stroke:"#333",strokeWidth:1.3}),
      Plot.link(boxes,{x1:d=>d.x-d.w/2,x2:d=>d.x+d.w/2,y1:d=>d.s[2],y2:d=>d.s[2],stroke:"#111",strokeWidth:3.2}),
      Plot.dot(dots,{x:"x",y:"v",r:3.2,fill:"#111"}),
      Plot.text(sig,{x:"i",y:9.02,text:"t",fontSize:13,dx:3,dy:2,fill:"#333"}),
      Plot.frame({stroke:"#333",strokeWidth:2.6}),
      Plot.axisX({ticks:idx,tickFormat:i=>cancers[i],tickRotate:-90,tickSize:6,tickPadding:5,fontSize:25,label:null,anchor:"bottom"}),
      Plot.axisY({ticks:[2.5,5,7.5],tickFormat:d3.format(".1f"),tickSize:6,fontSize:26,label:null,anchor:"left"}),
      Plot.text(["AURKA"],{frameAnchor:"left",textAnchor:"middle",dx:-50,rotate:-90,fontSize:24,fill:"#111"})
    ]
  });
  place(svg,0,0);
  html("leg","Group",1305,312);
  html("key","",1307,338,{background:blue});
  html("key","",1307,360,{background:gold});
  html("leg","Normal",1332,337);
  html("leg","Tumor",1332,358);
})();

// Panels B, C
function radar({cx,cy,names,values,vmin,vmax,ticks,special,shift,title,tx,ty}){
  const n=names.length,r0=47,rOut=235;
  const rOf=v=>r0+(v-vmin)/(vmax-vmin)*(rOut-r0);
  const pol=(r,i)=>{const a=i*2*Math.PI/n;return{x:r*Math.sin(a),y:-r*Math.cos(a)};};
  const ringR=d3.range(5).map(k=>r0+k*(rOut-r0)/4);
  const ringPts=ringR.flatMap(r=>d3.range(180).map(k=>{const a=k*2*Math.PI/180;return{r,x:r*Math.sin(a),y:-r*Math.cos(a)};}));
  const spokes=d3.range(n).map(i=>({a:pol(r0,i),b:pol(rOut,i)}));
  const pts=values.map((v,i)=>pol(rOf(v),i));
  const labels=names.map((nm,i)=>{const base=nm.replace(/\*/g,"");const R=special[base]||283;const p=pol(R,i);const s=(shift||{})[base]||[0,0];return{x:p.x+s[0],y:p.y+s[1],nm,big:base==="COAD"||base==="READ"};});
  const svg=Plot.plot({
    width:700,height:700,margin:0,
    x:{axis:null,domain:[-350,350],range:[0,700]},
    y:{axis:null,domain:[-350,350],range:[0,700]},
    style:{fontFamily:serif,background:"transparent"},
    marks:[
      Plot.line(pts,{x:"x",y:"y",curve:"linear-closed",fill:"#e2eef2",fillOpacity:.6,stroke:"none"}),
      Plot.line(ringPts,{x:"x",y:"y",z:"r",curve:"linear-closed",stroke:"#c6c6c6",strokeWidth:1.7}),
      Plot.link(spokes,{x1:d=>d.a.x,y1:d=>d.a.y,x2:d=>d.b.x,y2:d=>d.b.y,stroke:"#c6c6c6",strokeWidth:1.3}),
      Plot.line(ringPts.filter(d=>d.r===r0),{x:"x",y:"y",curve:"linear-closed",fill:"#eef5f8",stroke:"#dfe8ea",strokeWidth:1}),
      Plot.line(pts,{x:"x",y:"y",curve:"linear-closed",stroke:"#1b8e9e",strokeWidth:2.4}),
      Plot.dot(pts,{x:"x",y:"y",r:5,fill:"#17a0ae"}),
      Plot.text(ticks,{x:-11,y:(d,i)=>-(r0+(ticks.length-1-i)*(rOut-r0)/4),text:d=>d,fontSize:20,fontWeight:"bold",fill:"#111"}),
      Plot.text(labels.filter(d=>!d.big),{x:"x",y:"y",text:"nm",fontSize:19.5,fontWeight:"bold",fill:"#111"}),
      Plot.text(labels.filter(d=>d.big),{x:"x",y:"y",text:"nm",fontSize:28.5,fontWeight:"bold",fill:"#111"})
    ]
  });
  place(svg,cx-350,cy-350);
  html("title",title,tx,ty);
}
radar({cx:1728,cy:417,names:tmbNames,values:tmbValues,vmin:-.1,vmax:.4,ticks:["0.4","0.3","0.2","0","\u22120.1"],special:{BLCA:248,UVM:262,LUAD:254,COAD:313,READ:287,BRCA:290,THCA:280},shift:{COAD:[10,16]},title:"Correlation between AURKA and TMB",tx:1760,ty:86});
radar({cx:2449,cy:433,names:msiNames,values:msiValues,vmin:-.5,vmax:.3,ticks:["0.3","0.1","\u22120.1","\u22120.3","\u22120.5"],special:{ACC:260,LUSC:253,COAD:297,READ:288,BLCA:290,DLBC:288},title:"Correlation between AURKA and MSI",tx:2484,ty:87});

// Panel letters
[["A",34,40],["B",1363,39],["C",2118,40],["D",65,781],["E",64,2107],["F",65,3043],["G",1356,782],["H",1451,1717],["I",1495,2865]].forEach(([t,x,y])=>html("letter",t,x,y));
</script></body></html>
